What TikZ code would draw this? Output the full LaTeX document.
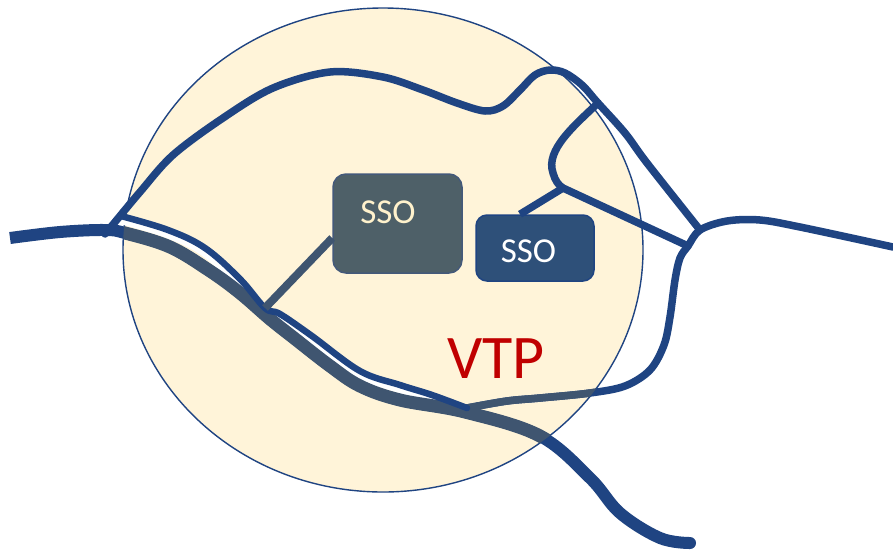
\documentclass[tikz,border=0pt]{standalone}
\usepackage{fontspec}
\setmainfont{Carlito}
\definecolor{lineblue}{HTML}{1F4482}
\definecolor{linegray}{HTML}{3F5570}
\definecolor{vtpcream}{HTML}{FFF4D9}
\definecolor{box1fill}{HTML}{4E6068}
\definecolor{box1line}{HTML}{44597A}
\definecolor{box2fill}{HTML}{2E5079}
\definecolor{labelcream}{HTML}{FFF2CC}
\definecolor{vtpred}{HTML}{C00000}
\begin{document}
\begin{tikzpicture}[x=1pt,y=-1pt,
  route/.style={line width=#1, line cap=round, line join=round},
  ssobox/.style={rounded corners=11pt, line width=1.5pt, inner sep=0pt},
  ssotext/.style={font=\fontsize{35}{40}\selectfont, inner sep=0pt, anchor=base},
  ]
\useasboundingbox (0,0) rectangle (893,550);
\fill[white] (0,0) rectangle (893,550);

% junction points
\coordinate (jL) at (105,234);
\coordinate (jA) at (265,308);
\coordinate (jB) at (467,408);
\coordinate (jTop) at (598,103);
\coordinate (jFork) at (563,188);
\coordinate (jR1) at (700,230);
\coordinate (jR2) at (688,246);
\coordinate (westEnd) at (10,238);
\coordinate (southEnd) at (690,543);
\coordinate (eastEnd) at (893,247);

% VTP area
\def\vtparea{(383,250) ellipse [x radius=260pt, y radius=242pt]}
\fill[vtpcream] \vtparea;
\draw[lineblue, line width=1.4pt] \vtparea;

% paths used twice (blue outside the area, grey inside it)
\def\mainroute{plot[smooth, tension=0.6] coordinates {(westEnd) (60,232) (105,230) (125,233) (170,247) (210,271) (240,293) (270,319) (294,338) (330,366) (360,386) (400,400) (465,412) (540,436) (590,478) (620,513) (660,538) (southEnd)}}
\def\eastroute{plot[smooth, tension=0.55] coordinates {(jB) (507,401) (540,398) (590,393) (625,386) (650,370) (664,345) (670,317) (675,280) (680,258) (jR2) (jR1) (727,221) (760,220) (800,227) (eastEnd)}}
\def\innerroute{plot[smooth, tension=0.6] coordinates {(121,216) (168,230) (205,248) (240,279) (jA) (280,314) (312,336) (360,371) (400,385) (432,395) (jB)}}

\draw[lineblue, line width=12pt, line cap=butt] \mainroute;
\fill[lineblue] (southEnd) circle (6pt);
\draw[lineblue, route=7.5pt] \eastroute;

% white gap along the inner route
\draw[white, line width=6pt, line cap=butt, shift={(-2.5,4.5)}] \innerroute;

\begin{scope}
  \clip \vtparea;
  \draw[linegray, line width=13pt, line cap=butt] \mainroute;
  \draw[linegray, route=7.5pt] \eastroute;
\end{scope}

% inner route alongside the main one
\draw[lineblue, route=6.5pt] \innerroute;

% upper route and its branches
\draw[lineblue, route=7.5pt] plot[smooth, tension=0.55] coordinates {(jL) (115,222) (140,192) (173,155) (223,118) (273,88) (330,72) (383,77) (423,90) (457,103) (485,111) (503,106) (520,90) (535,75) (550,70) (565,73) (582,85) (jTop) (625,133) (647,163) (jR1)};
\draw[lineblue, route=7.5pt] (jTop) .. controls (575,125) and (545,150) .. (553,173) .. controls (555,180) and (558,185) .. (jFork) -- (jR2);

% SSO boxes
\node[ssobox, fill=box1fill, draw=box1line, minimum width=129pt, minimum height=99pt, rounded corners=13pt] (sso1) at (397.5,223.5) {};
\node[ssotext, text=labelcream] (sso1label) at (388,223) {SSO};
\node[ssobox, fill=box2fill, draw=lineblue, minimum width=118pt, minimum height=66pt] (sso2) at (535,248) {};
\node[ssotext, text=white] (sso2label) at (528.5,262) {SSO};

\draw[linegray, line width=8pt] ([yshift=-14.5pt]sso1.west) -- (jA);
\draw[lineblue, line width=7.5pt] ([xshift=-15pt]sso2.north) -- (jFork);

\node[font=\fontsize{62}{70}\selectfont, text=vtpred, inner sep=0pt, anchor=base] (vtp) at (496,378) {VTP};
\end{tikzpicture}
\end{document}
